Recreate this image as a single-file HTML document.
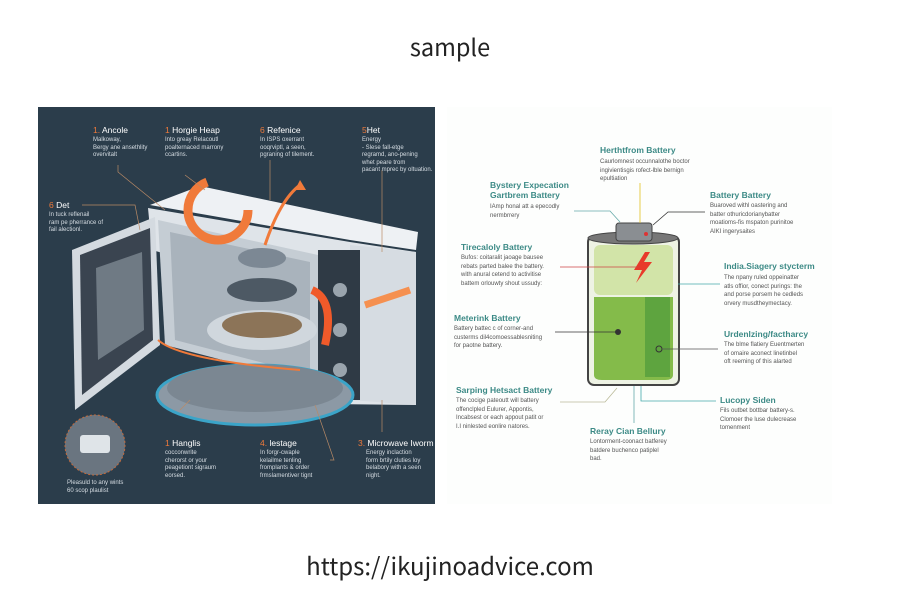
<!DOCTYPE html>
<html><head><meta charset="utf-8"><style>
body{margin:0;width:900px;height:600px;background:#fff;position:relative;overflow:hidden;font-family:"Liberation Sans",sans-serif}
.a{position:absolute;white-space:nowrap}
.lt{color:#fff;font-size:7.5px}
.lt b{font-size:8.5px;font-weight:normal}
.lt b i{color:#f07a3a;font-style:normal}
.ld{color:#d6dde3;font-size:6px;line-height:7.5px}
.rt{color:#3c8a86;font-size:8.5px;font-weight:bold}
.rd{color:#555;font-size:6px;line-height:8.6px}
.ti{font-family:"Noto Sans CJK JP","Liberation Sans",sans-serif;color:#222}
</style></head><body>
<div class="a ti" style="left:0;width:900px;top:29px;text-align:center;font-size:23.5px">sample</div>
<div class="a ti" style="left:0;width:900px;top:547px;text-align:center;font-size:24px">https://ikujinoadvice.com</div>

<div class="a" style="left:38px;top:107px;width:397px;height:397px;background:#2b3d4b"></div>
<svg class="a" style="left:38px;top:107px" width="397" height="397" viewBox="38 107 397 397">
 <polygon points="150,205 200,186 418,232 416,250 350,240" fill="#eef1f4"/>
 <polygon points="148,208 350,242 416,252 416,405 328,404 330,300 152,250" fill="#dfe4e9"/>
 <polygon points="350,245 416,252 416,405 350,400" fill="#d6dce2"/>
 <rect x="318" y="250" width="42" height="150" fill="#2f3a45"/>
 <circle cx="340" cy="290" r="7" fill="#9aa4ad"/><circle cx="340" cy="330" r="7" fill="#9aa4ad"/><circle cx="340" cy="370" r="7" fill="#9aa4ad"/>
 <polygon points="158,220 318,255 318,385 165,345" fill="#c5cdd4"/>
 <polygon points="170,232 310,262 310,375 175,340" fill="#a9b3bc"/>
 <ellipse cx="255" cy="395" rx="98" ry="30" fill="#8c99a5" stroke="#3ba4c8" stroke-width="3"/>
 <ellipse cx="255" cy="388" rx="88" ry="24" fill="#7b8792"/>
 <ellipse cx="262" cy="330" rx="55" ry="20" fill="#d0d7dd"/>
 <ellipse cx="262" cy="325" rx="40" ry="13" fill="#8c7458"/>
 <ellipse cx="262" cy="290" rx="35" ry="12" fill="#4d5964"/>
 <ellipse cx="262" cy="258" rx="24" ry="10" fill="#7c8894"/>
 <polygon points="72,250 155,217 160,345 75,410" fill="#d4dae0"/>
 <polygon points="80,255 150,228 153,340 82,395" fill="#3a4450"/>
 <polygon points="96,268 142,252 144,330 98,360" fill="#6f7a84"/>
 <circle cx="218" cy="210" r="30" fill="none" stroke="#f07a3a" stroke-width="9" stroke-dasharray="130 60"/>
 <path d="M265,245 Q280,200 300,185" fill="none" stroke="#f07a3a" stroke-width="3"/>
 <polygon points="300,180 306,190 295,190" fill="#f07a3a"/>
 <path d="M312,290 Q335,300 325,345" fill="none" stroke="#f05a2a" stroke-width="8"/>
 <path d="M410,290 L365,305" stroke="#f59050" stroke-width="7"/>
 <path d="M158,340 Q180,360 300,370" fill="none" stroke="#f07a3a" stroke-width="2"/>
 <circle cx="95" cy="445" r="30" fill="#6a7580" stroke="#c56a3a" stroke-dasharray="2 2"/>
 <rect x="80" y="435" width="30" height="18" rx="3" fill="#dfe4e8"/>
 <g stroke="#b98a66" stroke-width="0.7" fill="none">
  <path d="M118,165 V172 L165,210"/><path d="M185,175 L205,190"/><path d="M270,160 V200"/><path d="M382,170 V252"/><path d="M82,205 H135 L140,230"/><path d="M382,400 V432"/><path d="M315,405 L334,460 H330"/><path d="M180,410 L190,400"/>
 </g>
</svg>
<div class="a lt" style="left:93px;top:125px"><b><i>1.</i> Ancole</b></div>
<div class="a ld" style="left:93px;top:137px">Malkoway,<br>Bergy ane ansethlity<br>overvitalt</div>
<div class="a lt" style="left:165px;top:125px"><b><i>1</i> Horgie Heap</b></div>
<div class="a ld" style="left:165px;top:137px">Into greay Relacoutl<br>poalternaced marrony<br>ccartins.</div>
<div class="a lt" style="left:260px;top:125px"><b><i>6</i> Refenice</b></div>
<div class="a ld" style="left:260px;top:137px">In ISPS oxerrant<br>ooqrviptl, a seen,<br>pgraning of tilement.</div>
<div class="a lt" style="left:362px;top:125px"><b><i>5</i>Het</b></div>
<div class="a ld" style="left:362px;top:137px">Energy<br>- Slese fall-etge<br>regramd, ano-pening<br>whet peare trom<br>pacant mprec by oltuation.</div>
<div class="a lt" style="left:49px;top:200px"><b><i>6</i> Det</b></div>
<div class="a ld" style="left:49px;top:212px">In tuck reflenail<br>ram pe pherrance of<br>fail alectionl.</div>
<div class="a lt" style="left:165px;top:438px"><b><i>1</i> Hanglis</b></div>
<div class="a ld" style="left:165px;top:450px">cocconwrite<br>cherorst or your<br>peagetiont sigraum<br>eorsed.</div>
<div class="a lt" style="left:260px;top:438px"><b><i>4.</i> lestage</b></div>
<div class="a ld" style="left:260px;top:450px">In forgr-cwaple<br>kelailme tenling<br>fromplants &amp; order<br>frmslamentiver tignt</div>
<div class="a lt" style="left:358px;top:438px"><b><i>3.</i> Microwave Iworm</b></div>
<div class="a ld" style="left:366px;top:450px">Energy inclaction<br>form brtily cluties loy<br>belabory with a seen<br>night.</div>
<div class="a ld" style="left:67px;top:480px">Pleasuld to any wints<br>60 scop plaulist</div>

<div class="a" style="left:447px;top:107px;width:385px;height:397px;background:#fdfefd"></div>
<svg class="a" style="left:440px;top:107px" width="400" height="397" viewBox="440 107 400 397">
 <rect x="588" y="236" width="91" height="149" rx="6" fill="#eef3e4" stroke="#444" stroke-width="2"/>
 <rect x="594" y="245" width="79" height="50" rx="6" fill="#d2e4a8"/>
 <path d="M594,297 H673 V375 Q673,380 665,380 H602 Q594,380 594,375 Z" fill="#84bb4a"/>
 <rect x="645" y="297" width="25" height="80" fill="#4e9a3a" opacity="0.7"/>
 <ellipse cx="633" cy="238" rx="45" ry="6" fill="#777" stroke="#444"/>
 <rect x="616" y="223" width="36" height="18" rx="3" fill="#8a8e92" stroke="#444"/>
 <circle cx="646" cy="234" r="2" fill="#d33"/>
 <polygon points="645,252 634,270 642,270 636,283 652,262 644,262 650,252" fill="#e83a2a"/>
 <circle cx="618" cy="332" r="3" fill="#333"/>
 <circle cx="659" cy="349" r="3" fill="none" stroke="#333"/>
 <g stroke-width="0.8" fill="none">
  <path d="M640,183 V223" stroke="#e0c020"/>
  <path d="M574,211 H610 L620,222" stroke="#6aa"/>
  <path d="M705,212 H668 L653,225" stroke="#333"/>
  <path d="M560,267 H640" stroke="#c44"/>
  <path d="M678,284 H720" stroke="#4aa"/>
  <path d="M555,332 H618" stroke="#333"/>
  <path d="M662,349 H718" stroke="#555"/>
  <path d="M560,402 H605 L617,388" stroke="#bb9"/>
  <path d="M634,386 V423" stroke="#6aa"/>
  <path d="M641,386 V401 H716" stroke="#4aa"/>
 </g>
</svg>
<div class="a rt" style="left:600px;top:145px">Herthtfrom Battery</div>
<div class="a rd" style="left:600px;top:158px">Caurlomnest occunnalothe boctor<br>ingivientisgis rofect-lble bernign<br>epultiation</div>
<div class="a rt" style="left:490px;top:180px;line-height:10px">Bystery Expecation<br>Gartbrem Battery</div>
<div class="a rd" style="left:490px;top:203px">IAmp honal att a epecodly<br>nermbrrery</div>
<div class="a rt" style="left:710px;top:190px">Battery Battery</div>
<div class="a rd" style="left:710px;top:202px">Buaroved withl oastering and<br>batter othuricdorianybatter<br>moatioms-fis mspaton purinitoe<br>AIKI ingerysaites</div>
<div class="a rt" style="left:461px;top:242px">Tirecaloly Battery</div>
<div class="a rd" style="left:461px;top:254px">Bufos: coitaralit jaoage bausee<br>rebats parted balee the battery.<br>with anural cetend to activitise<br>battem orlouwty shout ussudy:</div>
<div class="a rt" style="left:724px;top:261px">India.Siagery stycterm</div>
<div class="a rd" style="left:724px;top:274px">The npany ruled oppeinatter<br>atls offior, conect purings: the<br>and porse porsem he cedleds<br>orvery musdtheymectacy.</div>
<div class="a rt" style="left:454px;top:313px">Meterink Battery</div>
<div class="a rd" style="left:454px;top:325px">Battery battec c of corner-and<br>custerms dil4comoessablesniting<br>for paotne battery.</div>
<div class="a rt" style="left:724px;top:329px">Urdenlzing/factharcy</div>
<div class="a rd" style="left:724px;top:341px">The blme flatiery Euentmerten<br>of omaire aconect linetinbel<br>oft reeming of this alarted</div>
<div class="a rt" style="left:456px;top:385px">Sarping Hetsact Battery</div>
<div class="a rd" style="left:456px;top:397px">The cocige pateoutt will battery<br>offenclpled Eulurer, Appontis,<br>Incabsest or each appout patit or<br>I.I ninlested eonlire natores.</div>
<div class="a rt" style="left:720px;top:395px">Lucopy Siden</div>
<div class="a rd" style="left:720px;top:407px">Fils outbet bottbar battery-s.<br>Clomoer the luse dulecrease<br>tomenment</div>
<div class="a rt" style="left:590px;top:426px">Reray Cian Bellury</div>
<div class="a rd" style="left:590px;top:438px">Lontorment-coonact batferey<br>batdere buchenco patiplel<br>bad.</div>
</body></html>
